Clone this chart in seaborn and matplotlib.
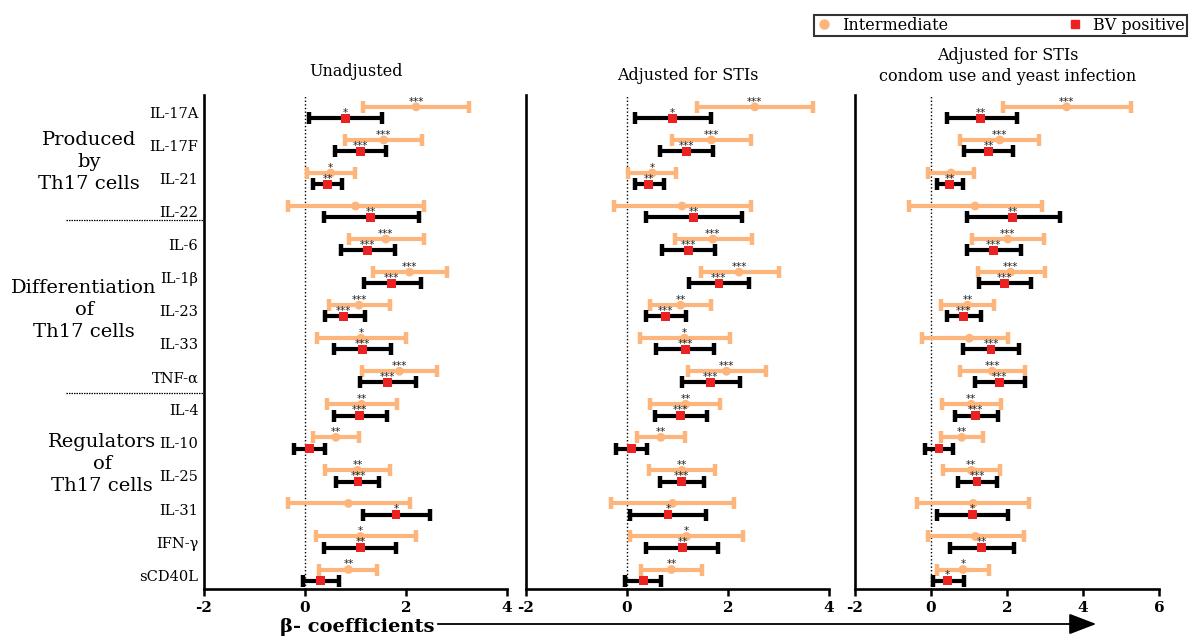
import numpy as np
import pandas as pd
import seaborn as sns
import matplotlib
matplotlib.use("Agg")
import matplotlib.pyplot as plt
import matplotlib.transforms as mtransforms
from matplotlib.lines import Line2D
from matplotlib.patches import FancyArrowPatch

# ---------------------------------------------------------------- data
cytokines = ["IL-17A", "IL-17F", "IL-21", "IL-22", "IL-6", "IL-1β", "IL-23",
             "IL-33", "TNF-α", "IL-4", "IL-10", "IL-25", "IL-31", "IFN-γ", "sCD40L"]

panel_titles = ["Unadjusted",
                "Adjusted for STIs",
                "Adjusted for STIs\ncondom use and yeast infection"]

group_names = ["Intermediate", "BV positive"]

# Unadjusted
unadj_int_est = [2.20, 1.56, 0.51, 1.00, 1.60, 2.07, 1.07, 1.11, 1.87, 1.12, 0.61, 1.04, 0.86, 1.10, 0.86]
unadj_int_lo = [1.15, 0.80, 0.03, -0.34, 0.88, 1.34, 0.47, 0.23, 1.12, 0.43, 0.16, 0.39, -0.34, 0.22, 0.27]
unadj_int_hi = [3.25, 2.32, 0.99, 2.36, 2.36, 2.81, 1.68, 2.00, 2.62, 1.82, 1.06, 1.69, 2.07, 2.20, 1.43]
unadj_int_sig = ["***", "***", "*", "", "***", "***", "***", "*", "***", "**", "**", "**", "", "*", "**"]
unadj_bv_est = [0.80, 1.10, 0.45, 1.30, 1.24, 1.72, 0.77, 1.14, 1.64, 1.08, 0.09, 1.05, 1.80, 1.10, 0.31]
unadj_bv_lo = [0.08, 0.60, 0.16, 0.38, 0.72, 1.16, 0.39, 0.57, 1.08, 0.57, -0.22, 0.61, 1.14, 0.38, -0.04]
unadj_bv_hi = [1.52, 1.60, 0.74, 2.25, 1.78, 2.30, 1.18, 1.70, 2.20, 1.62, 0.40, 1.47, 2.48, 1.81, 0.67]
unadj_bv_sig = ["*", "***", "**", "**", "***", "***", "***", "***", "***", "***", "", "***", "*", "**", ""]

# Adjusted for STIs
sti_int_est = [2.53, 1.67, 0.50, 1.09, 1.70, 2.22, 1.06, 1.14, 1.97, 1.16, 0.67, 1.09, 0.90, 1.18, 0.88]
sti_int_lo = [1.39, 0.90, 0.02, -0.26, 0.95, 1.47, 0.46, 0.26, 1.20, 0.46, 0.20, 0.44, -0.31, 0.05, 0.28]
sti_int_hi = [3.68, 2.46, 0.98, 2.46, 2.47, 3.00, 1.67, 2.03, 2.76, 1.85, 1.14, 1.75, 2.11, 2.29, 1.48]
sti_int_sig = ["***", "***", "*", "", "***", "***", "**", "*", "***", "**", "**", "**", "", "*", "**"]
sti_bv_est = [0.90, 1.18, 0.43, 1.32, 1.22, 1.82, 0.76, 1.16, 1.66, 1.06, 0.09, 1.08, 0.81, 1.10, 0.32]
sti_bv_lo = [0.16, 0.65, 0.16, 0.38, 0.70, 1.22, 0.37, 0.58, 1.09, 0.55, -0.22, 0.66, 0.05, 0.38, -0.03]
sti_bv_hi = [1.66, 1.70, 0.73, 2.27, 1.75, 2.41, 1.16, 1.73, 2.23, 1.59, 0.40, 1.52, 1.56, 1.80, 0.67]
sti_bv_sig = ["*", "***", "**", "**", "***", "***", "***", "***", "***", "***", "", "***", "*", "**", ""]

# Adjusted for STIs, condom use and yeast infection
full_int_est = [3.57, 1.81, 0.53, 1.16, 2.02, 2.10, 0.96, 1.01, 1.61, 1.06, 0.81, 1.06, 1.11, 1.17, 0.84]
full_int_lo = [1.90, 0.77, -0.08, -0.58, 1.07, 1.23, 0.26, -0.23, 0.76, 0.29, 0.25, 0.31, -0.37, -0.09, 0.16]
full_int_hi = [5.27, 2.85, 1.14, 2.93, 2.98, 3.00, 1.66, 2.03, 2.47, 1.83, 1.37, 1.82, 2.58, 2.45, 1.52]
full_int_sig = ["***", "***", "", "", "***", "***", "**", "", "***", "**", "**", "**", "", "", "*"]
full_bv_est = [1.31, 1.52, 0.49, 2.15, 1.65, 1.93, 0.86, 1.58, 1.81, 1.17, 0.21, 1.21, 1.09, 1.33, 0.44]
full_bv_lo = [0.41, 0.88, 0.15, 0.94, 0.95, 1.26, 0.41, 0.83, 1.16, 0.62, -0.15, 0.70, 0.17, 0.51, 0.04]
full_bv_hi = [2.25, 2.16, 0.84, 3.40, 2.38, 2.62, 1.32, 2.32, 2.48, 1.75, 0.58, 1.73, 2.02, 2.18, 0.86]
full_bv_sig = ["**", "**", "**", "**", "***", "***", "***", "***", "***", "***", "", "***", "*", "**", "*"]

x_limits = [(-2, 4), (-2, 4), (-2, 6)]

panels = [
    (unadj_int_est, unadj_int_lo, unadj_int_hi, unadj_int_sig,
     unadj_bv_est, unadj_bv_lo, unadj_bv_hi, unadj_bv_sig),
    (sti_int_est, sti_int_lo, sti_int_hi, sti_int_sig,
     sti_bv_est, sti_bv_lo, sti_bv_hi, sti_bv_sig),
    (full_int_est, full_int_lo, full_int_hi, full_int_sig,
     full_bv_est, full_bv_lo, full_bv_hi, full_bv_sig),
]

# ---------------------------------------------------------------- style
sns.set_style("ticks")
plt.rcParams["font.family"] = ["DejaVu Serif"]
plt.rcParams["axes.unicode_minus"] = False
plt.rcParams["axes.edgecolor"] = "black"
plt.rcParams["xtick.color"] = "black"
plt.rcParams["ytick.color"] = "black"
plt.rcParams["text.color"] = "black"

W, H = 1193, 639
ORANGE = "#FDB57B"
RED = "#EC2222"
BLACK = "#000000"
offsets = {"Intermediate": -0.17, "BV positive": 0.17}


def fx(px):
    return px / W


def fy(py):
    return 1 - py / H


fig = plt.figure(figsize=(W / 100, H / 100), dpi=100)

axes_px = [(204, 507), (526, 829), (855, 1159)]
top_px, bottom_px = 95, 589
axes = [fig.add_axes([fx(l), fy(bottom_px), fx(r - l), (bottom_px - top_px) / H])
        for l, r in axes_px]

for k, (ax, vals) in enumerate(zip(axes, panels)):
    ie, il, ih, isg, be, bl, bh, bsg = vals
    rows = np.arange(len(cytokines))
    df = pd.concat([
        pd.DataFrame({"cytokine": cytokines, "row": rows, "group": "Intermediate",
                      "est": ie, "lo": il, "hi": ih, "sig": isg}),
        pd.DataFrame({"cytokine": cytokines, "row": rows, "group": "BV positive",
                      "est": be, "lo": bl, "hi": bh, "sig": bsg}),
    ], ignore_index=True)
    df["y"] = df["row"] + df["group"].map(offsets)

    ax.axvline(0, color="black", ls=(0, (1, 1.6)), lw=1.0, zorder=0)

    for grp, col in [("Intermediate", ORANGE), ("BV positive", BLACK)]:
        d = df[df["group"] == grp]
        eb = ax.errorbar(d["est"], d["y"],
                         xerr=[d["est"] - d["lo"], d["hi"] - d["est"]],
                         fmt="none", ecolor=col, elinewidth=3.0,
                         capsize=4.2, capthick=3.2, zorder=2)
        for c in eb[1]:
            c.set_solid_capstyle("round")

    sns.scatterplot(data=df, x="est", y="y", hue="group", style="group",
                    palette={"Intermediate": ORANGE, "BV positive": RED},
                    markers={"Intermediate": "o", "BV positive": "s"},
                    s=40, linewidth=0, legend=False, ax=ax, zorder=3)

    for _, r in df.iterrows():
        if r["sig"]:
            ax.text(r["est"], r["y"] - 0.07, r["sig"], ha="center", va="baseline",
                    fontsize=7.5, color="#222222", family="DejaVu Sans", zorder=4)

    ax.set_xlim(*x_limits[k])
    ax.set_xticks(np.arange(x_limits[k][0], x_limits[k][1] + 1, 2))
    ax.set_ylim(len(cytokines) - 1 + 0.42, -0.53)
    ax.set_xlabel("")
    ax.set_ylabel("")
    sns.despine(ax=ax)
    for side in ("left", "bottom"):
        ax.spines[side].set_linewidth(1.9)
        ax.spines[side].set_color("black")
    ax.tick_params(axis="x", direction="out", length=5, width=1.8, pad=4,
                   labelsize=11, colors="black")
    for lbl in ax.get_xticklabels():
        lbl.set_fontweight("bold")
    if k == 0:
        ax.set_yticks(rows)
        ax.set_yticklabels(cytokines, fontsize=10.5)
        ax.tick_params(axis="y", length=0, pad=4)
    else:
        ax.set_yticks([])

# panel headings
title_pos = [(356, 72), (688, 75), (1008, 66)]
for (tx, ty), t in zip(title_pos, panel_titles):
    fig.text(fx(tx), fy(ty), t, ha="center", va="center", fontsize=11.5,
             linespacing=1.25)

# cytokine groups
group_labels = [("Produced\nby\nTh17 cells", 89, 162),
                ("Differentiation\nof\nTh17 cells", 84, 310),
                ("Regulators\nof\nTh17 cells", 102, 464)]
for txt, gx, gy in group_labels:
    fig.text(fx(gx), fy(gy), txt, ha="center", va="center", fontsize=14,
             linespacing=1.3)

trans = mtransforms.blended_transform_factory(axes[0].transAxes, axes[0].transData)
for sep in (3.25, 8.48):
    axes[0].plot([-0.455, 0.0], [sep, sep], transform=trans, color="black",
                 lw=0.9, ls=(0, (1.2, 0.8)), clip_on=False)

# x-axis caption with arrow
fig.text(fx(357), fy(627), "β- coefficients", ha="center", va="center",
         fontsize=14, fontweight="bold")
arrow = FancyArrowPatch((fx(435), fy(624)), (fx(1099), fy(624)),
                        transform=fig.transFigure, arrowstyle="-|>,head_length=1.7,head_width=0.65",
                        mutation_scale=10, lw=1.3, color="black")
fig.add_artist(arrow)

# legend
handles = [Line2D([], [], marker="o", ls="none", color=ORANGE, markersize=6.5),
           Line2D([], [], marker="s", ls="none", color=RED, markersize=6)]
leg = fig.legend(handles, group_names, ncol=2, mode="expand", loc="center",
                 bbox_to_anchor=(fx(814), fy(37), fx(1187 - 814), 23 / H),
                 frameon=True, fancybox=False, edgecolor="black", fontsize=11.5,
                 borderpad=0.15, handlelength=1.0, handletextpad=0.6,
                 borderaxespad=0)
leg.get_frame().set_linewidth(1.5)

fig.savefig("out.png", dpi=100)
